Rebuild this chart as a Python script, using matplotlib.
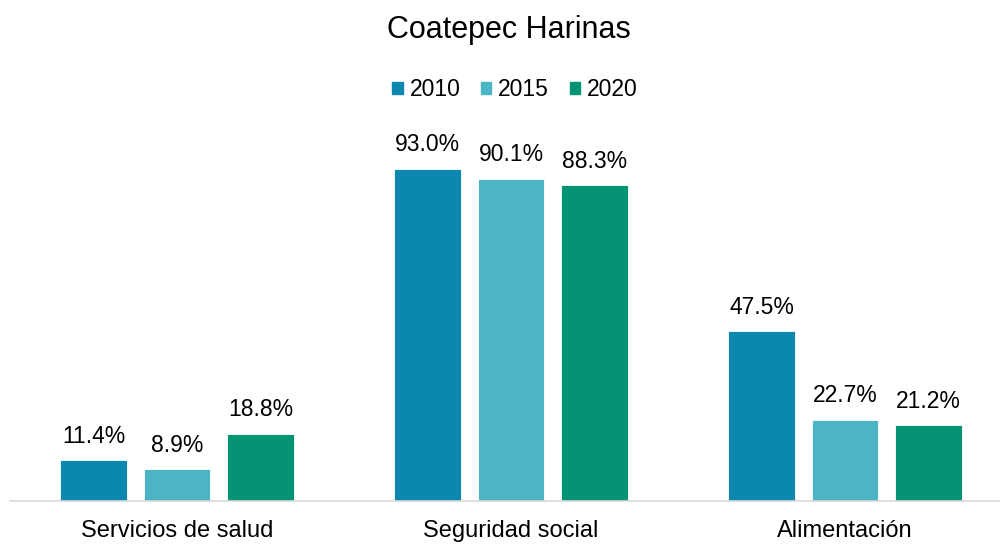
import numpy as np
from matplotlib import pyplot as plt
from matplotlib.patches import Patch

plt.rcParams['font.family'] = ['Liberation Sans', 'DejaVu Sans']

categories = ["Servicios de salud", "Seguridad social", "Alimentación"]
years = ["2010", "2015", "2020"]
v2010 = [11.4, 93.0, 47.5]
v2015 = [8.9, 90.1, 22.7]
v2020 = [18.8, 88.3, 21.2]
colors = ["#0B87B0", "#4BB5C6", "#049474"]

fig = plt.figure(figsize=(10, 5.44), dpi=100)
ax = fig.add_axes([0.01, 1 - 501 / 544, 1.002, 356 / 544])

x = np.arange(len(categories))
width = 0.2
offsets = [-0.25, 0, 0.25]
for vals, off, col in zip([v2010, v2015, v2020], offsets, colors):
  bars = ax.bar(x + off, vals, width, color=col, edgecolor="white", linewidth=0.6)
  for b, v in zip(bars, vals):
    ax.annotate(f"{v:.1f}%", (b.get_x() + b.get_width() / 2, v),
                xytext=(0, 9), textcoords="offset points",
                ha="center", va="bottom", fontsize=16.5)

ax.set_xlim(-0.5, 2.5)
ax.set_ylim(0, 99.6)
ax.set_xticks(x)
ax.set_xticklabels(categories, fontsize=17)
ax.tick_params(axis="x", length=0, pad=14)
ax.set_yticks([])
for s in ["top", "right", "left"]:
  ax.spines[s].set_visible(False)
ax.spines["bottom"].set_color("#D9D9D9")
ax.spines["bottom"].set_linewidth(1.2)

fig.text(0.509, 1 - 30 / 544, "Coatepec Harinas", ha="center", va="center", fontsize=22)

handles = [Patch(color=c) for c in colors]
fig.legend(handles, years, loc="center", bbox_to_anchor=(0.515, 1 - 90 / 544),
           ncol=3, frameon=False, fontsize=16.5, handlelength=0.45, handleheight=0.45,
           handletextpad=0.3, columnspacing=0.9)

fig.savefig("out.png", dpi=100)
